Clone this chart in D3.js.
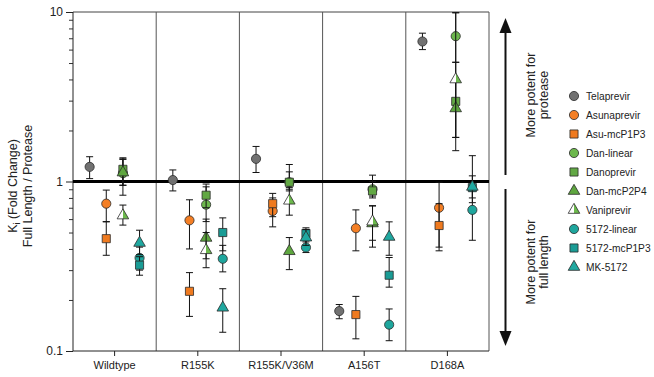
<!DOCTYPE html>
<html lang="en">
<head>
  <meta charset="UTF-8">
  <title>Ki fold change</title>
  <script src="https://d3js.org/d3.v7.min.js"></script>
  <style>
    * { margin: 0; padding: 0; box-sizing: border-box; }
    body { background: #fff; font-family: "Liberation Sans", Arial, sans-serif; }
    text { font-family: "Liberation Sans", Arial, sans-serif; fill: #222; }
  </style>
</head>
<body>
  <div id="chart"></div>
  <script>
    // categories and series
    const mutants = ["Wildtype", "R155K", "R155K/V36M", "A156T", "D168A"];
    const compounds = ["Telaprevir", "Asunaprevir", "Asu-mcP1P3", "Dan-linear", "Danoprevir",
                       "Dan-mcP2P4", "Vaniprevir", "5172-linear", "5172-mcP1P3", "MK-5172"];
    const family = [0, 1, 1, 2, 2, 2, 2, 3, 3, 3];   // column slot inside each mutant
    const shape = ["circle", "circle", "square", "circle", "square", "triangle", "half", "circle", "square", "triangle"];
    const yTicks = [0.1, 1, 10];

    // fold change (full length / protease), one value per mutant
    const Telaprevir   = [1.22, 1.02, 1.36, 0.172, 6.7];
    const Asunaprevir  = [0.74, 0.59, 0.67, 0.53, 0.70];
    const AsuMcP1P3    = [0.46, 0.225, 0.74, 0.164, 0.55];
    const DanLinear    = [1.12, 0.73, 0.99, 0.90, 7.2];
    const Danoprevir   = [1.18, 0.83, 0.99, 0.88, 2.97];
    const DanMcP2P4    = [1.13, 0.465, 0.388, 0.566, 2.7];
    const Vaniprevir   = [0.63, 0.393, 0.77, 0.58, 4.0];
    const Linear5172   = [0.354, 0.35, 0.408, 0.143, 0.68];
    const McP1P3_5172  = [0.321, 0.50, 0.494, 0.28, 0.92];
    const MK5172       = [0.434, 0.18, 0.467, 0.471, 0.93];

    // error bar ends (low, high)
    const errLow = [
      [1.04, 0.88, 1.13, 0.155, 6.0],
      [0.58, 0.40, 0.54, 0.39, 0.41],
      [0.367, 0.16, 0.62, 0.118, 0.39],
      [0.95, 0.58, 0.90, 0.82, 5.05],
      [0.83, 0.70, 0.88, 0.80, 1.82],
      [0.95, 0.35, 0.302, 0.41, 1.52],
      [0.553, 0.31, 0.633, 0.45, 1.82],
      [0.30, 0.293, 0.381, 0.115, 0.45],
      [0.28, 0.39, 0.44, 0.238, 0.75],
      [0.37, 0.129, 0.42, 0.367, 0.80]
    ];
    const errHigh = [
      [1.40, 1.17, 1.61, 0.188, 7.5],
      [0.89, 0.78, 0.80, 0.68, 0.99],
      [0.578, 0.29, 0.851, 0.21, 0.74],
      [1.36, 0.93, 1.14, 1.0, 9.9],
      [1.38, 0.966, 1.26, 1.09, 5.05],
      [1.35, 0.60, 0.467, 0.717, 4.0],
      [0.726, 0.50, 0.92, 0.72, 9.9],
      [0.41, 0.42, 0.45, 0.177, 0.88],
      [0.36, 0.61, 0.533, 0.356, 1.42],
      [0.516, 0.233, 0.52, 0.578, 1.08]
    ];
    const seriesValues = [Telaprevir, Asunaprevir, AsuMcP1P3, DanLinear, Danoprevir,
                          DanMcP2P4, Vaniprevir, Linear5172, McP1P3_5172, MK5172];

    const colors = ["#717171", "#f47f25", "#ef7a1f", "#6cb84c", "#62a844", "#5ea63f", "#6cb84c",
                    "#1ea69d", "#1a9c95", "#20a8a0"];

    const W = 654, H = 377;
    const plot = {left: 73, right: 489, top: 12, bottom: 351};

    const svg = d3.select("#chart").append("svg")
      .attr("width", W).attr("height", H);

    const defs = svg.append("defs");
    const grad = defs.append("linearGradient").attr("id", "halfFill")
      .attr("x1", "0%").attr("x2", "100%").attr("y1", "0%").attr("y2", "0%");
    grad.append("stop").attr("offset", "50%").attr("stop-color", "#ffffff");
    grad.append("stop").attr("offset", "50%").attr("stop-color", "#6cb84c");

    const x = d3.scaleBand().domain(mutants).range([plot.left, plot.right]).padding(0);
    const slot = d3.scalePoint().domain([0, 1, 2, 3]).range([0, x.bandwidth()]).padding(1);
    const y = d3.scaleLog().domain([0.1, 10]).range([plot.bottom, plot.top]);

    // panel frame
    svg.append("line")
      .attr("x1", plot.left).attr("x2", plot.right)
      .attr("y1", plot.top).attr("y2", plot.top)
      .attr("stroke", "#444").attr("stroke-width", 1);
    svg.selectAll(".divider")
      .data(mutants.slice(1).concat(["end"]))
      .enter().append("line")
      .attr("class", "divider")
      .attr("x1", (d, i) => plot.left + (i + 1) * x.bandwidth())
      .attr("x2", (d, i) => plot.left + (i + 1) * x.bandwidth())
      .attr("y1", plot.top).attr("y2", plot.bottom)
      .attr("stroke", "#555").attr("stroke-width", 1);

    // y axis, major + minor ticks
    const minor = y.ticks(20).filter(v => !yTicks.includes(v));
    svg.append("g")
      .attr("transform", `translate(${plot.left},0)`)
      .call(d3.axisLeft(y).tickValues(minor).tickSize(4).tickFormat(""))
      .call(g => g.select(".domain").remove())
      .selectAll("line").attr("stroke", "#333");
    svg.append("g")
      .attr("transform", `translate(${plot.left},0)`)
      .call(d3.axisLeft(y).tickValues(yTicks).tickSize(7).tickPadding(3).tickFormat(d3.format("")))
      .call(g => {
        g.select(".domain").attr("stroke", "#222").attr("d", `M0,${plot.top}V${plot.bottom}`);
        g.selectAll("line").attr("stroke", "#222");
        g.selectAll("text").style("font-size", "12px").attr("fill", "#222");
      });

    // x axis
    svg.append("g")
      .attr("transform", `translate(0,${plot.bottom})`)
      .call(d3.axisBottom(x).tickSize(5).tickPadding(5))
      .call(g => {
        g.select(".domain").attr("stroke", "#222").attr("d", `M${plot.left},0H${plot.right}`);
        g.selectAll("line").attr("stroke", "#222");
        g.selectAll("text").style("font-size", "11px").attr("fill", "#222");
      });

    // reference line at 1
    svg.append("line")
      .attr("x1", plot.left).attr("x2", plot.right)
      .attr("y1", y(1)).attr("y2", y(1))
      .attr("stroke", "#000").attr("stroke-width", 3);

    function symbolPath(kind) {
      if (kind === "circle") return d3.symbol(d3.symbolCircle, 66)();
      if (kind === "square") return d3.symbol(d3.symbolSquare, 66)();
      return d3.symbol(d3.symbolTriangle, 58)();
    }
    function fillFor(i) {
      return shape[i] === "half" ? "url(#halfFill)" : colors[i];
    }

    // points with error bars
    compounds.forEach((name, i) => {
      const pts = mutants.map((m, j) => ({
        m, v: seriesValues[i][j], lo: errLow[i][j], hi: errHigh[i][j],
        cx: x(m) + slot(family[i])
      }));
      const g = svg.append("g").attr("class", "series");
      const eb = g.selectAll(".err").data(pts).enter().append("g").attr("class", "err")
        .attr("stroke", "#111").attr("stroke-width", 1);
      eb.append("line")
        .attr("x1", d => d.cx).attr("x2", d => d.cx)
        .attr("y1", d => y(d.lo)).attr("y2", d => y(d.hi));
      eb.append("line")
        .attr("x1", d => d.cx - 3.5).attr("x2", d => d.cx + 3.5)
        .attr("y1", d => y(d.lo)).attr("y2", d => y(d.lo));
      eb.append("line")
        .attr("x1", d => d.cx - 3.5).attr("x2", d => d.cx + 3.5)
        .attr("y1", d => y(d.hi)).attr("y2", d => y(d.hi));
      g.selectAll(".pt").data(pts).enter().append("path")
        .attr("class", "pt")
        .attr("d", symbolPath(shape[i]))
        .attr("transform", d => `translate(${d.cx},${y(d.v)})`)
        .attr("fill", fillFor(i))
        .attr("stroke", "#2b2b2b").attr("stroke-width", 0.8);
    });

    // y label
    const yl = svg.append("text")
      .attr("transform", "translate(17,186) rotate(-90)")
      .attr("text-anchor", "middle")
      .style("font-size", "12.5px");
    yl.append("tspan").text("K");
    yl.append("tspan").attr("dy", 3).style("font-size", "9px").text("i");
    yl.append("tspan").attr("dy", -3).text(" (Fold Change)");
    svg.append("text")
      .attr("transform", "translate(32,186) rotate(-90)")
      .attr("text-anchor", "middle")
      .style("font-size", "12.5px")
      .text("Full Length / Protease");

    // arrows
    const ax = 505.5;
    svg.append("line").attr("x1", ax).attr("x2", ax).attr("y1", 30).attr("y2", 175)
      .attr("stroke", "#111").attr("stroke-width", 2);
    svg.append("path").attr("d", `M${ax},18L${ax - 6},33L${ax + 6},33Z`).attr("fill", "#111");
    svg.append("line").attr("x1", ax).attr("x2", ax).attr("y1", 189).attr("y2", 334)
      .attr("stroke", "#111").attr("stroke-width", 2);
    svg.append("path").attr("d", `M${ax},346L${ax - 6},331L${ax + 6},331Z`).attr("fill", "#111");

    [["More potent for", "protease", 95], ["More potent for", "full length", 262]].forEach(([a, b, cy]) => {
      svg.append("text").attr("transform", `translate(535,${cy}) rotate(-90)`)
        .attr("text-anchor", "middle").style("font-size", "12.5px").text(a);
      svg.append("text").attr("transform", `translate(548,${cy}) rotate(-90)`)
        .attr("text-anchor", "middle").style("font-size", "12.5px").text(b);
    });

    // legend
    const legend = svg.append("g").attr("transform", "translate(574,96)");
    compounds.forEach((name, i) => {
      const row = legend.append("g").attr("transform", `translate(0,${i * 19})`);
      row.append("path").attr("d", symbolPath(shape[i]))
        .attr("fill", fillFor(i)).attr("stroke", "#2b2b2b").attr("stroke-width", 0.8);
      row.append("text").attr("x", 12).attr("y", 4)
        .style("font-size", "10.2px").text(name);
    });
  </script>
</body>
</html>
